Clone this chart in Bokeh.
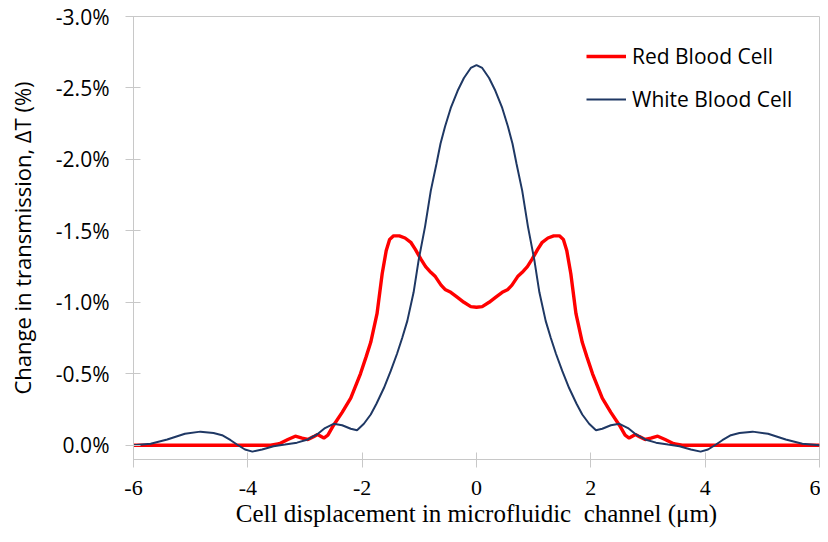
from bokeh.plotting import figure
from bokeh.models import Range1d, FixedTicker, PrintfTickFormatter, Legend, LegendItem
from bokeh.embed import file_html
from bokeh.resources import INLINE

# ---- data ----
x_ticks = [-6, -4, -2, 0, 2, 4, 6]
y_ticks = [0.0, -0.5, -1.0, -1.5, -2.0, -2.5, -3.0]

rbc_x = [-6.0, -5.0, -4.0, -3.6, -3.45, -3.3, -3.17, -3.05, -2.95, -2.85, -2.78, -2.67,
         -2.6, -2.5, -2.35, -2.2, -2.03, -1.93, -1.85, -1.74, -1.65, -1.58, -1.52, -1.45,
         -1.35, -1.25, -1.15, -1.07, -0.97, -0.89, -0.8, -0.72, -0.62, -0.55, -0.45, -0.35,
         -0.22, -0.1, 0.0,
         0.1, 0.22, 0.35, 0.45, 0.55, 0.62, 0.72, 0.8, 0.89, 0.97, 1.07, 1.15, 1.25, 1.35,
         1.45, 1.52, 1.58, 1.65, 1.74, 1.85, 1.93, 2.03, 2.2, 2.35, 2.5, 2.6, 2.67, 2.78,
         2.85, 2.95, 3.05, 3.17, 3.3, 3.45, 3.6, 4.0, 5.0, 6.0]
rbc_y = [0.0, 0.0, 0.0, 0.0, -0.01, -0.04, -0.063, -0.05, -0.04, -0.06, -0.075, -0.05,
         -0.07, -0.14, -0.23, -0.33, -0.50, -0.62, -0.72, -0.92, -1.20, -1.36, -1.44, -1.465,
         -1.465, -1.45, -1.42, -1.37, -1.30, -1.25, -1.21, -1.18, -1.12, -1.09, -1.07, -1.04,
         -1.00, -0.97, -0.965,
         -0.97, -1.00, -1.04, -1.07, -1.09, -1.12, -1.18, -1.21, -1.25, -1.30, -1.37, -1.42,
         -1.45, -1.465, -1.465, -1.44, -1.36, -1.20, -0.92, -0.72, -0.62, -0.50, -0.33,
         -0.23, -0.14, -0.07, -0.05, -0.075, -0.06, -0.04, -0.05, -0.063, -0.04, -0.01,
         0.0, 0.0, 0.0, 0.0]

wbc_x = [-6.0, -5.7, -5.41, -5.1, -4.83, -4.6, -4.45, -4.3, -4.19, -4.05, -3.92, -3.75,
         -3.55, -3.35, -3.14, -2.95, -2.79, -2.65, -2.5, -2.35, -2.2, -2.09, -1.97, -1.85,
         -1.75, -1.62, -1.5, -1.39, -1.3, -1.21, -1.1, -1.01, -0.9, -0.8, -0.7, -0.63,
         -0.55, -0.45, -0.33, -0.22, -0.1, 0.0,
         0.1, 0.22, 0.33, 0.45, 0.55, 0.63, 0.7, 0.8, 0.9, 1.01, 1.1, 1.21, 1.3, 1.39, 1.5,
         1.62, 1.75, 1.85, 1.97, 2.09, 2.2, 2.35, 2.5, 2.65, 2.79, 2.95, 3.14, 3.35, 3.55,
         3.75, 3.92, 4.05, 4.19, 4.3, 4.45, 4.6, 4.83, 5.1, 5.41, 5.7, 6.0]
wbc_y = [0.0, -0.01, -0.04, -0.08, -0.095, -0.085, -0.07, -0.035, -0.005, 0.03, 0.045, 0.03,
         0.007, -0.005, -0.018, -0.04, -0.075, -0.12, -0.15, -0.14, -0.115, -0.105, -0.15,
         -0.215, -0.29, -0.40, -0.52, -0.64, -0.75, -0.87, -1.07, -1.30, -1.53, -1.78, -1.97,
         -2.11, -2.23, -2.36, -2.48, -2.57, -2.64, -2.66,
         -2.64, -2.57, -2.48, -2.36, -2.23, -2.11, -1.97, -1.78, -1.53, -1.30, -1.07, -0.87,
         -0.75, -0.64, -0.52, -0.40, -0.29, -0.215, -0.15, -0.105, -0.115, -0.14, -0.15,
         -0.12, -0.075, -0.04, -0.018, -0.005, 0.007, 0.03, 0.045, 0.03, -0.005, -0.035,
         -0.07, -0.085, -0.095, -0.08, -0.04, -0.01, 0.0]

series_names = ["Red Blood Cell", "White Blood Cell"]
x_title = "Cell displacement in microfluidic\u00a0 channel (\u03bcm)"
y_title = "Change in transmission, \u0394T (%)"

# ---- figure ----
GRAY = "#C8C8C8"
p = figure(width=820, height=542, output_backend="svg", toolbar_location=None,
           x_range=Range1d(-6, 6), y_range=Range1d(0.1, -3.0),
           min_border_left=133, min_border_right=1, min_border_top=16, min_border_bottom=83)
p.xgrid.visible = False
p.ygrid.visible = False
p.outline_line_color = GRAY
p.outline_line_width = 1
p.background_fill_color = "white"
p.border_fill_color = "white"

r1 = p.line(rbc_x, rbc_y, line_color="#FF0000", line_width=3.4)
r2 = p.line(wbc_x, wbc_y, line_color="#1F3864", line_width=2)

for ax in (p.xaxis[0], p.yaxis[0]):
    ax.axis_line_color = GRAY
    ax.major_tick_line_color = GRAY
    ax.minor_tick_line_color = None
    ax.major_tick_in = 7
    ax.major_tick_out = 8
    ax.major_label_text_color = "#000000"
    ax.axis_label_text_color = "#000000"
    ax.axis_label_text_font_style = "normal"

p.xaxis.ticker = FixedTicker(ticks=x_ticks)
p.xaxis.formatter = PrintfTickFormatter(format="%d")
p.xaxis.major_label_text_font = "Liberation Serif"
p.xaxis.major_label_text_font_size = "22px"
p.xaxis.major_label_standoff = 13
p.xaxis.axis_label = x_title
p.xaxis.axis_label_text_font = "Liberation Serif"
p.xaxis.axis_label_text_font_size = "25px"
p.xaxis.axis_label_standoff = 2

p.yaxis.ticker = FixedTicker(ticks=y_ticks)
p.yaxis.formatter = PrintfTickFormatter(format="%.1f%%")
p.yaxis.major_label_text_font = "Open Sans"
p.yaxis.major_label_text_font_size = "21px"
p.yaxis.major_label_standoff = 16
p.yaxis.axis_label = y_title
p.yaxis.axis_label_text_font = "Open Sans"
p.yaxis.axis_label_text_font_size = "22px"
p.yaxis.axis_label_standoff = 16

legend = Legend(items=[LegendItem(label=series_names[0], renderers=[r1]),
                       LegendItem(label=series_names[1], renderers=[r2])],
                location=(453, 346), orientation="vertical",
                label_text_font="Open Sans", label_text_font_size="21px",
                label_text_color="#000000",
                glyph_width=40, label_standoff=6, spacing=15, padding=0, margin=0,
                border_line_alpha=0, background_fill_alpha=0)
p.add_layout(legend)

open("out.html", "w").write(file_html(p, INLINE))
